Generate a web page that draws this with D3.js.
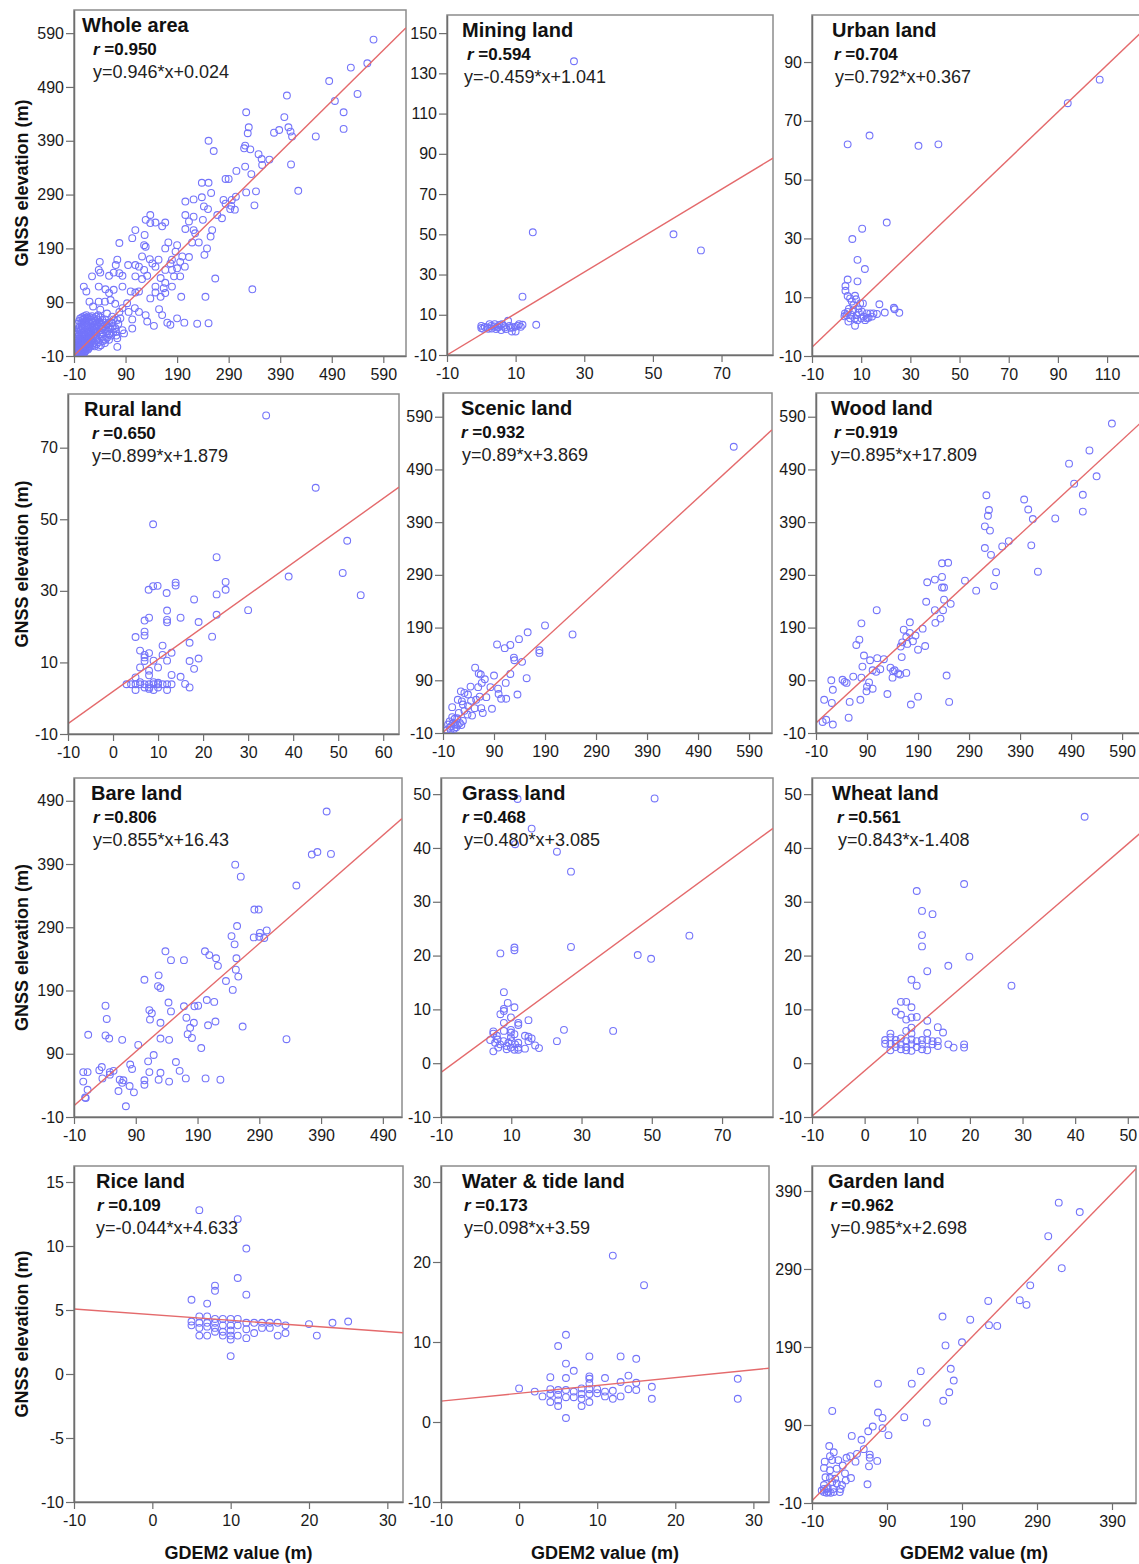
<!DOCTYPE html>
<html>
<head>
<meta charset="utf-8">
<script src="https://cdn.jsdelivr.net/npm/d3@7/dist/d3.min.js"></script>
<style>
  body { margin: 0; background: #fff; }
  svg text { font-family: "Liberation Sans", Arial, sans-serif; }
</style>
</head>
<body>
<div id="chart"></div>
<script>
// ---- data ----
const titles = ['Whole area', 'Mining land', 'Urban land', 'Rural land', 'Scenic land', 'Wood land',
  'Bare land', 'Grass land', 'Wheat land', 'Rice land', 'Water & tide land', 'Garden land']
const rValues = ['0.950', '0.594', '0.704', '0.650', '0.932', '0.919', '0.806', '0.468', '0.561', '0.109', '0.173', '0.962']
const equations = ['y=0.946*x+0.024', 'y=-0.459*x+1.041', 'y=0.792*x+0.367', 'y=0.899*x+1.879',
  'y=0.89*x+3.869', 'y=0.895*x+17.809', 'y=0.855*x+16.43', 'y=0.480*x+3.085',
  'y=0.843*x-1.408', 'y=-0.044*x+4.633', 'y=0.098*x+3.59', 'y=0.985*x+2.698']
// fitted lines as drawn in the figure
const fitSlopes = [0.946, 1.03, 0.80, 0.899, 0.89, 0.895, 0.855, 0.480, 0.843, -0.044, 0.098, 0.985]
const fitIntercepts = [0.024, 0.3, 1.0, 1.879, 0.0, 17.809, 16.43, 3.085, -1.408, 4.633, 3.59, 2.698]

const t100 = [-10, 90, 190, 290, 390, 490, 590]
const xTicks = [t100, [-10, 10, 30, 50, 70], [-10, 10, 30, 50, 70, 90, 110], [-10, 0, 10, 20, 30, 40, 50, 60],
  t100, t100, [-10, 90, 190, 290, 390, 490], [-10, 10, 30, 50, 70], [-10, 0, 10, 20, 30, 40, 50],
  [-10, 0, 10, 20, 30], [-10, 0, 10, 20, 30], [-10, 90, 190, 290, 390]]
const yTicks = [t100, [-10, 10, 30, 50, 70, 90, 110, 130, 150], [-10, 10, 30, 50, 70, 90], [-10, 10, 30, 50, 70],
  t100, t100, [-10, 90, 190, 290, 390, 490], [-10, 0, 10, 20, 30, 40, 50], [-10, 0, 10, 20, 30, 40, 50],
  [-10, -5, 0, 5, 10, 15], [-10, 0, 10, 20, 30], [-10, 90, 190, 290, 390]]

const ptsWhole = [
  [571,578],[559,534],[527,526],[485,501],[496,464],[540,477],[513,443],[513,412],[403,474],[324,443],[329,415],[327,404],
  [398,434],[406,415],[410,407],[413,398],[388,410],[378,405],[459,398],[411,346],[425,297],[336,114],[322,381],[332,374],
  [320,376],[348,365],[354,356],[369,355],[355,345],[334,328],[322,342],[305,334],[343,296],[324,294],[340,270],[251,390],
  [261,371],[238,312],[251,312],[256,293],[238,285],[242,268],[250,263],[222,281],[206,277],[284,319],[290,319],[304,286],
  [296,280],[280,280],[284,273],[295,269],[302,262],[293,263],[277,246],[268,252],[240,243],[222,249],[206,252],[213,240],
  [206,226],[222,224],[225,218],[258,224],[255,212],[248,190],[243,178],[232,201],[219,201],[213,174],[200,175],[190,196],
  [187,184],[173,201],[167,190],[180,169],[196,165],[205,156],[190,153],[177,162],[180,150],[167,150],[184,138],[196,138],
  [167,126],[180,119],[164,116],[148,119],[158,135],[148,156],[154,169],[167,238],[161,231],[148,238],[138,252],[129,243],
  [138,237],[109,224],[103,209],[127,215],[126,196],[129,193],[78,200],[137,170],[122,175],[142,162],[109,159],[116,156],
  [126,150],[132,139],[122,133],[109,138],[95,159],[74,169],[71,159],[78,144],[84,139],[67,145],[58,139],[38,150],
  [40,165],[41,145],[25,138],[9,119],[14,110],[38,119],[51,114],[67,113],[84,119],[100,110],[109,108],[116,110],
  [148,108],[167,107],[138,97],[158,100],[198,100],[245,100],[264,134],[155,77],[161,66],[171,52],[177,48],[190,60],
  [204,52],[229,50],[251,51],[145,46],[129,66],[132,54],[108,79],[116,72],[103,58],[103,41],[87,32],[84,38],
  [74,7],[38,7],[93,88],[84,79],[96,72],[78,72],[70,87],[61,94],[58,107],[50,91],[38,91],[20,91],
  [27,82],[41,76],[54,69],[64,63],[74,57],[64,51],[54,48],[45,41],[32,35],[58,32],[71,35],[74,23],
  [51,20],[29,14],[19,7],
  [-6,-8],[-4,-5],[-2,-7],[0,-4],[2,-6],[4,-3],[6,-5],[8,-2],[10,-4],[12,-1],[-5,-2],[-3,0],[-1,2],[1,0],[3,3],[5,1],
  [7,4],[9,2],[11,5],[13,3],[15,6],[17,2],[19,5],[21,8],[-6,4],[-4,7],[-2,5],[0,9],[2,6],[4,10],[6,8],[8,12],
  [10,9],[12,13],[14,10],[16,14],[18,11],[20,15],[22,12],[24,16],[26,10],[28,14],[-5,12],[-3,15],[-1,18],[1,14],
  [3,19],[5,16],[7,21],[9,18],[11,23],[13,20],[15,25],[17,22],[19,27],[21,24],[23,29],[25,21],[27,26],[29,31],
  [31,23],[33,28],[35,20],[-4,22],[-2,26],[0,30],[2,24],[4,28],[6,33],[8,27],[10,35],[12,30],[14,38],[16,32],
  [18,40],[20,35],[22,43],[24,37],[26,45],[28,39],[30,48],[32,41],[34,50],[36,35],[38,44],[40,30],[42,38],[44,26],
  [46,33],[48,22],[-3,35],[-1,40],[1,44],[3,38],[5,48],[7,42],[9,52],[11,46],[13,56],[15,50],[17,60],[19,54],
  [21,62],[23,57],[25,64],[27,52],[29,60],[31,55],[33,63],[35,58],[37,66],[39,54],[41,62],[43,48],[45,57],[47,44],
  [49,52],[51,40],[53,48],[55,36],[57,44],[59,30],[61,40],[63,52],[65,45],[67,58],[-2,50],[0,55],[2,60],[4,52],
  [6,62],[8,58],[10,64],[12,60],[14,66],[16,62],[-5,30],[-6,18],[30,8],[34,12],[38,16],[42,10],[46,18],[50,14],
  [54,24],[58,20],[62,28],[66,34],[70,42],[72,28],[76,50],[80,60],
  [-3,-3],[1,-2],[5,-1],[9,1],[-1,5],[3,7],[7,9],[11,11],[15,13],[19,17],[-4,10],[0,16],[4,22],[8,26],[12,28],[16,20],
  [20,24],[24,30],[28,34],[32,36],[18,46],[26,54],[34,46],[42,52],[50,58],[58,52],[6,43],[14,45],[-2,32],[2,36]
]
const ptsMining = [
  [27,136],[15,51],[56,50],[64,42],[12,19],[16,5],[12,5],[0,3.4],[0,4.5],[1.7,3.7],[2.9,4.5],[3.9,5.3],[4.8,3.7],
  [5.8,2.4],[6,5.3],[6.8,3.7],[7.8,7],[8.2,4.5],[8.9,1.7],[10,1.7],[9.2,3.7],[10.6,4.5],[11,5.3],[3,3.2],[4.3,2.9],
  [5.3,4.9],[1,4],[2.4,5.3],[7.2,2.9],[3.7,4.2],[0.5,3],[2,3],[5,4],[6.5,4.5],[8.5,3.5],[9.8,4],[11.5,4]
]
const ptsUrban = [
  [107,84],[94,76],[4.5,62],[13.4,65],[33.3,61.5],[41.4,62],[20.4,35.4],[10.4,33.3],[6.4,29.8],[8.5,22.7],[11.5,19.6],
  [8.5,15.4],[4.5,16],[3.6,13.8],[3.6,12.2],[4.5,10.4],[7.5,10.5],[17.4,7.6],[23.3,6.4],[23.6,5.9],[25.5,4.7],[19.6,4.8],
  [7.5,0.3],[3.4,4.5],[5.5,2.8],[4.8,1.7],[6.8,5.6],[8.2,3.9],[8.9,6.2],[10.3,5.1],[11,3.4],[9.6,7.9],[6.2,8.5],[5.5,9.6],
  [10.7,7.9],[12.3,4.5],[13.7,4.5],[15,4.5],[16.4,4.3],[12.3,2.8],[14.4,3.4],[7.5,2.8],[8.5,2.2],[11.6,2.2],[4.1,3.9],
  [6.8,7.3],[7.9,9.3],[5,6],[9,4.8],[6,4],[10,2.8],[13,3],[3.2,3.5],[4.5,5]
]
const ptsRural = [
  [34,79],[45,58.8],[8.9,48.6],[52,44],[23,39.4],[39,34],[51,35],[55,28.8],[13.9,32.3],[13.9,31.5],[8.9,31.3],[9.9,31.4],
  [7.9,30.3],[11.9,29.4],[25,32.5],[25,30.3],[23,29],[18,27.6],[30,24.6],[23,23.3],[12,24.5],[15,22.5],[8,22.5],[7,21.7],
  [12,21.9],[12,21.2],[19,21.3],[7,18.6],[7,17.5],[5,17.1],[22,17.2],[17,15.5],[11,14.7],[6,13.3],[8,12.6],[13,12.7],
  [11,12.1],[7,12.1],[7,11.4],[9,10.5],[12,10.5],[17,10.4],[19,11.1],[7,10.4],[10,8.6],[6,8.6],[18,8.2],[8,7.7],[8,6.4],
  [13,6.5],[15,6],[16,4],[17,3],[5,5.8],[3,3.9],[4,3.9],[5,3.9],[6,3.9],[7,3.9],[8,3.9],[9,3.9],[10,3.9],[11,3.9],
  [12,3.9],[13,3.9],[5,2.3],[9,2.3],[12,2.3],[7,3],[8,3],[10,3],[6,4.5],[9,4.5],[10,4.3],[8,2.6]
]
const ptsScenic = [
  [560,533],[190,194],[244,177],[156,181],[139,168],[122,157],[111,151],[96,158],[179,147],[179,142],[129,133],[130,128],
  [145,125],[53,114],[60,103],[64,101],[122,102],[90,99],[72,92],[154,94],[66,85],[113,85],[44,78],[59,77],[83,77],
  [98,74],[136,63],[104,55],[114,55],[99,64],[75,58],[62,59],[25,69],[32,66],[39,63],[19,53],[27,50],[45,51],[55,53],
  [65,37],[52,37],[68,28],[86,36],[47,23],[38,25],[29,44],[39,41],[32,32],[21,28],[8,39],[8,20],[13,17],[0,6],[3,0],
  [6,3],[10,9],[13,6],[16,1],[19,5],[26,5],[23,9],[5,-4],[-2,-4],[12,-2],[3,12],[29,13],[18,18]
]
const ptsWood = [
  [570,577],[526,526],[486,501],[496,463],[540,477],[513,442],[513,410],[398,433],[406,414],[415,396],[459,397],[412,346],
  [425,296],[368,354],[355,344],[324,441],[329,413],[327,402],[321,382],[331,374],[321,341],[333,328],[343,295],[339,269],
  [282,279],[304,260],[237,312],[249,313],[208,276],[223,281],[237,286],[237,266],[241,266],[241,243],[254,235],[206,239],
  [223,223],[239,223],[224,199],[234,207],[109,223],[174,200],[79,198],[199,188],[162,186],[174,180],[185,175],[167,172],
  [159,162],[180,164],[169,159],[156,154],[204,155],[190,148],[158,134],[75,167],[69,157],[84,137],[96,128],[110,132],
  [123,130],[81,116],[116,111],[101,109],[108,106],[136,114],[144,109],[141,107],[151,103],[155,101],[167,104],[140,95],
  [63,97],[79,95],[246,99],[42,91],[46,87],[50,85],[20,90],[94,86],[90,78],[101,74],[89,69],[23,72],[130,64],[190,59],
  [6,53],[21,47],[56,49],[77,53],[176,44],[251,49],[54,19],[10,15],[3,11],[23,6]
]
const ptsBare = [
  [399,473],[375,405],[384,409],[406,406],[251,389],[260,370],[350,356],[282,318],[289,318],[254,292],[245,276],[250,263],
  [291,281],[302,285],[290,275],[298,273],[281,274],[253,241],[252,223],[256,212],[236,205],[247,191],[202,252],[209,246],
  [220,241],[223,229],[168,238],[138,252],[147,238],[127,214],[126,197],[130,194],[104,207],[205,175],[217,172],[168,165],
  [185,165],[191,166],[143,171],[147,157],[112,159],[116,154],[113,144],[172,147],[130,139],[184,139],[207,135],[219,141],
  [263,133],[178,131],[174,121],[181,115],[130,114],[144,112],[334,113],[41,166],[43,145],[41,119],[47,114],[68,112],
  [13,120],[94,104],[196,99],[119,88],[110,78],[155,77],[81,73],[84,66],[35,69],[31,64],[48,61],[54,63],[36,51],[48,57],
  [112,61],[130,60],[161,63],[5,61],[12,61],[5,46],[127,49],[144,46],[171,51],[203,51],[227,49],[104,48],[104,41],
  [64,49],[70,48],[68,44],[80,39],[87,29],[62,31],[12,33],[9,20],[8,21],[74,7]
]
const ptsGrass = [
  [11.8,49.1],[50.8,49.2],[15.8,43.6],[11.1,40.7],[23,39.3],[27,35.6],[60.7,23.7],[27,21.6],[46,20.1],[49.8,19.4],
  [10.9,21.5],[10.9,21],[6.9,20.4],[7.9,13.2],[9,11.2],[10.9,10.4],[7.9,10.1],[7.9,9.7],[6.9,9.1],[9.9,8.5],[14.9,8],
  [12,7.5],[12,7.1],[7.9,7.5],[25,6.2],[39,6],[7.9,6],[4.9,5.9],[4.9,5.5],[9.9,6.2],[9.9,5.7],[10.9,5.4],[9.9,4.8],
  [13.9,5.1],[14.9,4.9],[15.8,4.6],[23,4.1],[16.8,3.3],[17.9,2.8],[13.9,2.7],[4.9,2.2],[4,4.3],[5.4,3.8],[6.1,4.4],
  [6.8,3.5],[7.8,4.1],[8.7,3.2],[9.2,3.8],[10.1,4.1],[11.1,3.5],[12,3.8],[12,2.9],[10.9,2.5],[8.7,2.6],[6.3,2.9],
  [9.9,2.9],[12,2.5],[5.9,5.1],[14.9,4.1]
]
const ptsWheat = [
  [41.8,45.8],[18.9,33.3],[9.9,32],[10.9,28.3],[12.9,27.7],[10.9,23.8],[10.9,21.7],[19.9,19.8],[15.9,18.1],[11.9,17.1],
  [8.9,15.5],[9.9,14.4],[27.9,14.4],[6.9,11.4],[7.9,11.4],[8.9,10.4],[5.9,9.6],[6.9,9],[7.9,8.1],[8.9,8.5],[9.9,8.6],
  [11.9,7.9],[13.9,6.7],[14.9,5.7],[11.9,5.6],[8.9,6.6],[7.9,6],[8.9,5.5],[4.9,5.5],[15.9,3.5],[16.9,2.9],[18.9,3.5],
  [18.9,2.9],[3.9,4.3],[3.9,3.6],[4.9,4.8],[5.9,4.3],[6.9,4.6],[6.9,3.5],[7.9,4.1],[7.9,3],[8.9,4.4],[8.9,3.5],
  [9.9,4.1],[10.9,4.3],[10.9,3.5],[11.9,4.3],[12.9,4.1],[13.9,4.1],[13.9,3.2],[5.9,3],[6.9,2.6],[7.9,2.4],[8.9,2.3],
  [10.9,2.6],[11.9,2.4],[4.9,2.4],[12.9,3.5],[9.9,3],[5.9,3.6],[4.9,3.6]
]
const ptsRice = [
  [6,12.8],[10.9,12.1],[12,9.8],[10.9,7.5],[8,6.9],[8,6.5],[12,6.2],[5,5.8],[7,5.5],[10,1.4],[10,2.7],[25,4.1],[23,4],
  [20,3.9],[21,3],[17,3.8],[17,3.2],[16,3],[16,4],[15,4],[15,3.6],[14,4],[14,3.6],[13,4],[13,3.2],[12,4],[12,3.5],
  [12,2.8],[10.9,4.3],[10.9,3.8],[10.9,3],[10,4.3],[10,3.8],[10,3.4],[10,3],[9,4.3],[9,3.8],[9,3.3],[9,3],[8,4.3],
  [8,4],[8,3.6],[8,3.3],[7,4.5],[7,4],[7,3.7],[7,3],[6,4.5],[6,4],[6,3.6],[6,3],[5,4.1],[5,3.8]
]
const ptsWater = [
  [12,20.8],[16,17.1],[6,10.9],[5,9.5],[6,7.3],[9,8.2],[13,8.2],[15,7.9],[7,6.4],[4,5.6],[6,5.5],[9,5.7],[9,5.4],
  [11,5.5],[14,5.8],[13,5],[15,4.9],[17,4.4],[28,5.4],[28,2.9],[17,2.9],[0,4.2],[2,3.8],[3,3.2],[4,4.1],[4,3.5],
  [4,2.5],[5,4],[5,3.4],[5,2.7],[5,2],[6,4],[6,3.1],[6,0.5],[7,3.8],[7,3.1],[8,4.2],[8,3.5],[8,2.9],[8,2],[9,4.8],
  [9,4.1],[9,3.5],[9,2.5],[10,4.1],[10,3.6],[11,3.8],[11,3.2],[12,3.9],[12,2.9],[13,3.2],[14,4.1],[15,4]
]
const ptsGarden = [
  [319,375],[347,363],[305,332],[323,291],[281,269],[267,250],[276,244],[225,249],[237,217],[226,218],[201,225],[164,229],
  [168,192],[190,196],[175,162],[135,159],[179,147],[123,143],[78,143],[173,132],[165,121],[17,108],[78,106],[84,99],
  [113,100],[143,93],[71,88],[84,86],[65,82],[92,77],[43,76],[56,71],[59,59],[13,63],[19,55],[50,53],[67,52],[67,48],
  [41,50],[36,48],[14,50],[17,45],[48,43],[77,44],[66,37],[7,43],[6,35],[31,38],[23,34],[25,45],[14,32],[8,23],[14,22],
  [21,21],[34,28],[42,22],[35,19],[30,13],[27,4],[64,14],[6,13],[10,8],[6,4],[9.5,3],[12,4],[15,3],[19,4],[6,8],[3,6],
  [11,9],[18,8],[23,15],[17,17],[28,8]
]
const points = [ptsWhole, ptsMining, ptsUrban, ptsRural, ptsScenic, ptsWood,
  ptsBare, ptsGrass, ptsWheat, ptsRice, ptsWater, ptsGarden]

// ---- layout (pixels) ----
const panels = [
  { l: 74, r: 406, t: 10, b: 356, xd: [-10, 634], yd: [-10, 633], tx: [8, 19, 19] },
  { l: 447, r: 773, t: 15, b: 355, xd: [-10, 85], yd: [-10, 159], tx: [15, 20, 17] },
  { l: 812, r: 1142, t: 15, b: 356, xd: [-10, 124.2], yd: [-10, 106], tx: [20, 22, 23] },
  { l: 68, r: 399, t: 394, b: 734, xd: [-10, 63.5], yd: [-10, 85], tx: [16, 24, 24] },
  { l: 443, r: 772, t: 393, b: 733, xd: [-10, 635], yd: [-10, 635], tx: [18, 18, 19] },
  { l: 816, r: 1142, t: 393, b: 733, xd: [-10, 629], yd: [-10, 635], tx: [15, 18, 15] },
  { l: 74, r: 402, t: 778, b: 1117, xd: [-10, 521], yd: [-10, 526], tx: [17, 19, 19] },
  { l: 441, r: 773, t: 778, b: 1117, xd: [-10, 84.5], yd: [-10, 53], tx: [21, 21, 23] },
  { l: 812, r: 1142, t: 778, b: 1117, xd: [-10, 52.7], yd: [-10, 53], tx: [20, 25, 26] },
  { l: 74, r: 403, t: 1166, b: 1502, xd: [-10, 32], yd: [-10, 16.25], tx: [22, 23, 22] },
  { l: 441, r: 769, t: 1166, b: 1502, xd: [-10, 32], yd: [-10, 32], tx: [21, 23, 23] },
  { l: 812, r: 1136, t: 1166, b: 1503, xd: [-10, 422], yd: [-10, 422], tx: [16, 18, 19] }
]

const W = 1139, H = 1564
const svg = d3.select('#chart').append('svg').attr('width', W).attr('height', H)
const defs = svg.append('defs')

panels.forEach((p, i) => {
  const x = d3.scaleLinear().domain(p.xd).range([p.l, p.r])
  const y = d3.scaleLinear().domain(p.yd).range([p.b, p.t])
  const g = svg.append('g').attr('class', 'panel')

  defs.append('clipPath').attr('id', 'clip' + i)
    .append('rect').attr('x', p.l).attr('y', p.t).attr('width', p.r - p.l).attr('height', p.b - p.t)

  g.append('rect')
    .attr('x', p.l).attr('y', p.t)
    .attr('width', p.r - p.l).attr('height', p.b - p.t)
    .attr('fill', '#fff').attr('stroke', '#8c8c8c').attr('stroke-width', 1.5)

  const plot = g.append('g').attr('clip-path', `url(#clip${i})`)
  plot.selectAll('circle')
    .data(points[i]).enter().append('circle')
    .attr('cx', d => x(d[0])).attr('cy', d => y(d[1]))
    .attr('r', 3.4)
    .attr('fill', 'none').attr('stroke', '#7474fa').attr('stroke-width', 1.1)

  const fx = p.xd
  plot.append('line')
    .attr('x1', x(fx[0])).attr('y1', y(fitSlopes[i] * fx[0] + fitIntercepts[i]))
    .attr('x2', x(fx[1])).attr('y2', y(fitSlopes[i] * fx[1] + fitIntercepts[i]))
    .attr('stroke', '#e46a6c').attr('stroke-width', 1.4)

  const xa = g.append('g').attr('transform', `translate(0,${p.b})`)
    .call(d3.axisBottom(x).tickValues(xTicks[i]).tickSize(7).tickSizeOuter(0).tickPadding(6).tickFormat(d => String(d)))
  const ya = g.append('g').attr('transform', `translate(${p.l},0)`)
    .call(d3.axisLeft(y).tickValues(yTicks[i]).tickSize(8).tickSizeOuter(0).tickPadding(2).tickFormat(d => String(d)))
  ;[xa, ya].forEach(a => {
    a.select('.domain').attr('stroke', '#6e6e6e').attr('stroke-width', 1.5)
    a.selectAll('.tick line').attr('stroke', '#6e6e6e').attr('stroke-width', 1.2)
    a.selectAll('.tick text').attr('fill', '#1a1a1a').style('font-size', '16px')
  })

  g.append('text')
    .attr('x', p.l + p.tx[0]).attr('y', p.t + 22)
    .style('font-size', '20px').style('font-weight', 'bold').attr('fill', '#111')
    .text(titles[i])
  const rt = g.append('text')
    .attr('x', p.l + p.tx[1]).attr('y', p.t + 45)
    .style('font-size', '17px').style('font-weight', 'bold').attr('fill', '#111')
  rt.append('tspan').style('font-style', 'italic').text('r')
  rt.append('tspan').text(' =' + rValues[i])
  g.append('text')
    .attr('x', p.l + p.tx[2]).attr('y', p.t + 68)
    .style('font-size', '18px').attr('fill', '#222')
    .text(equations[i])
})

// axis titles
;[0, 3, 6, 9].forEach(i => {
  const p = panels[i]
  svg.append('text')
    .attr('transform', `translate(28,${(p.t + p.b) / 2}) rotate(-90)`)
    .attr('text-anchor', 'middle')
    .style('font-size', '18px').style('font-weight', 'bold').attr('fill', '#111')
    .text('GNSS elevation (m)')
})
;[9, 10, 11].forEach(i => {
  const p = panels[i]
  svg.append('text')
    .attr('x', (p.l + Math.min(p.r, W)) / 2).attr('y', 1559)
    .attr('text-anchor', 'middle')
    .style('font-size', '18px').style('font-weight', 'bold').attr('fill', '#111')
    .text('GDEM2 value (m)')
})
</script>
</body>
</html>
